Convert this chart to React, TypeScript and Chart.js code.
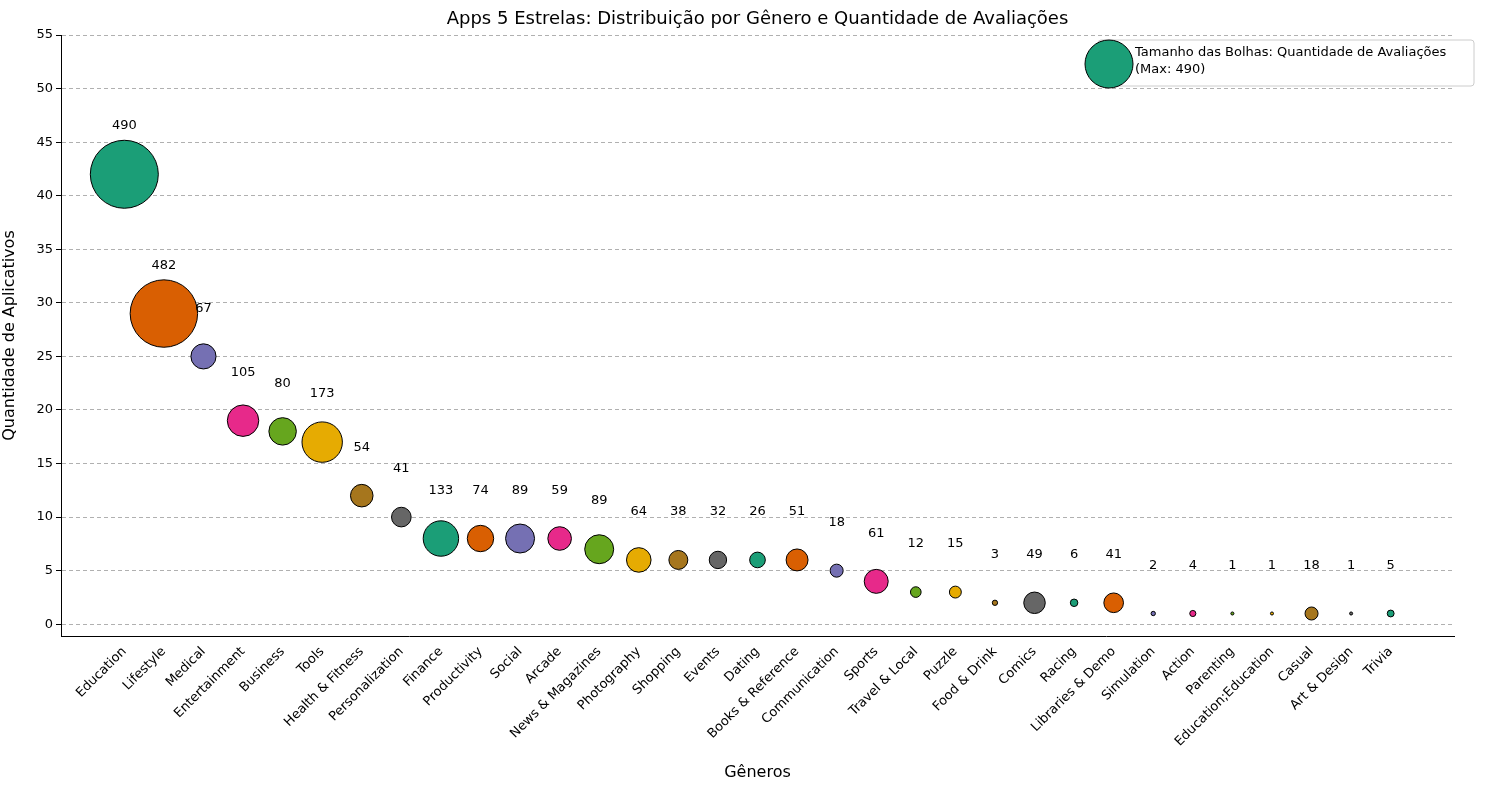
import { useEffect, useRef } from 'react';
import Chart from 'chart.js/auto';

const genres = ['Education', 'Lifestyle', 'Medical', 'Entertainment', 'Business', 'Tools', 'Health & Fitness', 'Personalization', 'Finance', 'Productivity', 'Social', 'Arcade', 'News & Magazines', 'Photography', 'Shopping', 'Events', 'Dating', 'Books & Reference', 'Communication', 'Sports', 'Travel & Local', 'Puzzle', 'Food & Drink', 'Comics', 'Racing', 'Libraries & Demo', 'Simulation', 'Action', 'Parenting', 'Education;Education', 'Casual', 'Art & Design', 'Trivia'];
const appCounts = [42, 29, 25, 19, 18, 17, 12, 10, 8, 8, 8, 8, 7, 6, 6, 6, 6, 6, 5, 4, 3, 3, 2, 2, 2, 2, 1, 1, 1, 1, 1, 1, 1];
const reviewCounts = [490, 482, 67, 105, 80, 173, 54, 41, 133, 74, 89, 59, 89, 64, 38, 32, 26, 51, 18, 61, 12, 15, 3, 49, 6, 41, 2, 4, 1, 1, 18, 1, 5];
const yTicks = [0, 5, 10, 15, 20, 25, 30, 35, 40, 45, 50, 55];
const palette = ['#1b9e77', '#d95f02', '#7570b3', '#e7298a', '#66a61e', '#e6ab02', '#a6761d', '#666666'];

const FONT = '"DejaVu Sans", sans-serif';
const radius = (v: number) => 34 * Math.sqrt(v / 490);

const App = () => {
	const chartRef = useRef<HTMLCanvasElement>(null);
	const chartInstanceRef = useRef<Chart | null>(null);

	useEffect(() => {
		document.body.style.margin = '0';
		if (!chartRef.current) return;
		if (chartInstanceRef.current) chartInstanceRef.current.destroy();

		const overlay = {
			id: 'overlay',
			afterDatasetsDraw(chart: any) {
				const { ctx, scales, chartArea } = chart;
				ctx.save();
				ctx.fillStyle = '#000';
				ctx.font = `13px ${FONT}`;
				ctx.textAlign = 'center';
				ctx.textBaseline = 'middle';
				appCounts.forEach((c, i) => {
					ctx.fillText(String(reviewCounts[i]), scales.x.getPixelForValue(i), scales.y.getPixelForValue(c + 4.5));
				});
				// title
				ctx.font = `18px ${FONT}`;
				ctx.fillText('Apps 5 Estrelas: Distribuição por Gênero e Quantidade de Avaliações', (chartArea.left + chartArea.right) / 2, 19);
				// legend
				const bx = 1098, by = 40, bw = 376, bh = 46;
				ctx.fillStyle = 'rgba(255,255,255,0.8)';
				ctx.strokeStyle = '#cccccc';
				ctx.lineWidth = 1;
				ctx.beginPath();
				ctx.roundRect(bx, by, bw, bh, 3);
				ctx.fill();
				ctx.stroke();
				ctx.beginPath();
				ctx.arc(1109, 64, 24, 0, Math.PI * 2);
				ctx.fillStyle = palette[0];
				ctx.fill();
				ctx.strokeStyle = '#000';
				ctx.stroke();
				ctx.fillStyle = '#000';
				ctx.font = `13px ${FONT}`;
				ctx.textAlign = 'left';
				ctx.fillText('Tamanho das Bolhas: Quantidade de Avaliações', 1135, 53);
				ctx.fillText('(Max: 490)', 1135, 70);
				ctx.restore();
			},
		};

		chartInstanceRef.current = new Chart(chartRef.current, {
			type: 'bubble',
			data: {
				datasets: [
					{
						data: appCounts.map((c, i) => ({ x: i, y: c, r: radius(reviewCounts[i]) })),
						backgroundColor: appCounts.map((_, i) => palette[i % palette.length]),
						borderColor: '#000',
						borderWidth: 1,
					},
				],
			},
			options: {
				animation: false,
				responsive: false,
				layout: { padding: { top: 35, right: 9, left: 0, bottom: 0 } },
				plugins: { legend: { display: false }, tooltip: { enabled: false }, title: { display: false } },
				scales: {
					x: {
						type: 'linear',
						min: -1.6,
						max: 33.6,
						afterBuildTicks: (s: any) => { s.ticks = genres.map((_, i) => ({ value: i })); },
						afterFit: (s: any) => { s.height = 154; },
						grid: { display: false, drawTicks: true, tickLength: 5, tickColor: '#000' },
						border: { color: '#000' },
						ticks: {
							autoSkip: false,
							maxRotation: 45,
							minRotation: 45,
							color: '#000',
							font: { family: FONT, size: 13 },
							callback: (v: any) => genres[v] ?? '',
						},
						title: { display: true, text: 'Gêneros', color: '#000', font: { family: FONT, size: 16 }, padding: { top: 0, bottom: 8 } },
					},
					y: {
						min: -1.1,
						max: 55,
						afterBuildTicks: (s: any) => { s.ticks = yTicks.map((v) => ({ value: v })); },
						afterFit: (s: any) => { s.width = 61; },
						grid: { color: '#b0b0b0', tickColor: '#000', tickLength: 5, lineWidth: 1 },
						border: { color: '#000', dash: [4, 3] } as any,
						ticks: { color: '#000', font: { family: FONT, size: 13 } },
						title: { display: true, text: 'Quantidade de Aplicativos', color: '#000', font: { family: FONT, size: 16 }, padding: 0 },
					},
				},
			} as any,
			plugins: [overlay],
		});

		const y: any = chartInstanceRef.current.options.scales!.y;
		y.grid.borderDash = [4, 3];

		return () => {
			if (chartInstanceRef.current) chartInstanceRef.current.destroy();
		};
	}, []);

	return (
		<div style={{ width: 1489, height: 790, background: '#fff' }}>
			<canvas ref={chartRef} width={1489} height={790} />
		</div>
	);
};

export default App;
